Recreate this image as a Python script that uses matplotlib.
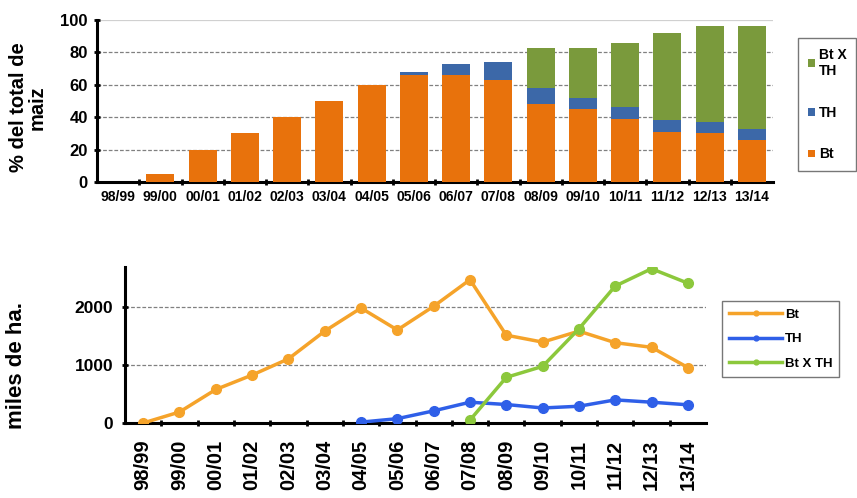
import matplotlib
matplotlib.use("Agg")
import matplotlib.pyplot as plt
import numpy as np

plt.rcParams['font.family'] = ['Liberation Sans', 'DejaVu Sans']
plt.rcParams['font.weight'] = 'bold'

seasons = ["98/99", "99/00", "00/01", "01/02", "02/03", "03/04", "04/05", "05/06",
           "06/07", "07/08", "08/09", "09/10", "10/11", "11/12", "12/13", "13/14"]

# Top: % of total maize
pct_bt = [0, 5, 20, 30, 40, 50, 60, 66, 66, 63, 48, 45, 39, 31, 30, 26]
pct_th = [0, 0, 0, 0, 0, 0, 0, 2, 7, 11, 10, 7, 7, 7, 7, 7]
pct_btxth = [0, 0, 0, 0, 0, 0, 0, 0, 0, 0, 25, 31, 40, 54, 59, 63]

# Bottom: thousands of hectares
ha_bt = [0, 190, 580, 830, 1110, 1590, 1990, 1610, 2020, 2480, 1520, 1400, 1590, 1390, 1310, 960]
ha_th = [None, None, None, None, None, None, 15, 75, 210, 360, 320, 260, 290, 400, 360, 315]
ha_btxth = [None, None, None, None, None, None, None, None, None, 50, 790, 980, 1630, 2370, 2670, 2420]

fig = plt.figure(figsize=(8.57, 4.98), dpi=100)
W, H = 857, 498

def ax_px(l, t, r, b):
    return fig.add_axes([l / W, 1 - b / H, (r - l) / W, (b - t) / H])

x = np.arange(len(seasons))

# ---------- top chart ----------
ax1 = ax_px(97, 20, 773, 182)
c_bt, c_th, c_bx = "#E8720C", "#3C68A8", "#7A9A3C"
b1 = ax1.bar(x, pct_bt, width=0.66, color=c_bt, zorder=3, label="Bt")
b2 = ax1.bar(x, pct_th, width=0.66, bottom=pct_bt, color=c_th, zorder=3, label="TH")
bottom3 = [a + b for a, b in zip(pct_bt, pct_th)]
b3 = ax1.bar(x, pct_btxth, width=0.66, bottom=bottom3, color=c_bx, zorder=3, label="Bt X\nTH")
ax1.set_xlim(-0.5, len(seasons) - 0.5)
ax1.set_ylim(0, 100)
ax1.set_yticks([0, 20, 40, 60, 80, 100])
ax1.set_xticks(x)
ax1.set_xticklabels(seasons, fontsize=10, fontweight='bold')
ax1.set_xticks(np.arange(0.5, len(seasons) - 0.5, 1), minor=True)
ax1.tick_params(axis='x', which='major', length=0, pad=6)
ax1.tick_params(axis='x', which='minor', length=5, width=2, direction='inout')
ax1.tick_params(axis='y', labelsize=12, length=5, width=2, direction='inout', pad=4)
for lab in ax1.get_yticklabels():
    lab.set_fontweight('bold')
for s in ['top', 'right']:
    ax1.spines[s].set_visible(False)
for s in ['left', 'bottom']:
    ax1.spines[s].set_linewidth(2.2)
ax1.yaxis.grid(True, linestyle=(0, (3, 1.5)), color="#808080", linewidth=0.9, zorder=0)
gl = ax1.get_ygridlines()
gl[-1].set_color("#d0d0d0")
gl[-1].set_linestyle("-")
ax1.set_ylabel("% del total de\nmaiz", fontsize=14.5, fontweight='bold', linespacing=0.95)
ax1.yaxis.set_label_coords(-0.075, 0.46)
leg1 = ax1.legend(handles=[b3, b2, b1], loc='upper left', bbox_to_anchor=(1.037, 0.889),
                  borderaxespad=0, frameon=True, fancybox=False, edgecolor="#555555",
                  fontsize=10, handlelength=0.5, handleheight=0.5, handletextpad=0.3,
                  labelspacing=2.0, borderpad=0.7)
for t in leg1.get_texts():
    t.set_fontweight('bold')

# ---------- bottom chart ----------
ax2 = ax_px(125, 267, 706, 423)
lc_bt, lc_th, lc_bx = "#F5A32A", "#2F5FE8", "#8CC83C"
ha_th_arr = np.array([np.nan if v is None else v for v in ha_th], dtype=float)
ha_bx_arr = np.array([np.nan if v is None else v for v in ha_btxth], dtype=float)
ax2.plot(x, ha_bt, color=lc_bt, lw=2.5, marker='o', ms=7, label="Bt", zorder=3)
ax2.plot(x, ha_th_arr, color=lc_th, lw=2.5, marker='o', ms=7, label="TH", zorder=3)
ax2.plot(x, ha_bx_arr, color=lc_bx, lw=2.5, marker='o', ms=7, label="Bt X TH", zorder=3)
ax2.set_xlim(-0.5, len(seasons) - 0.5)
ax2.set_ylim(0, 2700)
ax2.set_yticks([0, 1000, 2000])
ax2.set_xticks(x)
ax2.set_xticklabels(seasons, rotation=90, fontsize=14.5, fontweight='bold')
ax2.set_xticks(np.arange(0.5, len(seasons) - 0.5, 1), minor=True)
ax2.tick_params(axis='x', which='major', length=0, pad=12)
ax2.tick_params(axis='x', which='minor', length=5, width=2, direction='inout')
ax2.tick_params(axis='y', labelsize=12.5, length=5, width=2, direction='inout', pad=6)
for lab in ax2.get_yticklabels():
    lab.set_fontweight('bold')
for s in ['top', 'right']:
    ax2.spines[s].set_visible(False)
for s in ['left', 'bottom']:
    ax2.spines[s].set_linewidth(2.2)
ax2.yaxis.grid(True, linestyle=(0, (3, 1.5)), color="#808080", linewidth=0.9, zorder=0)
ax2.set_ylabel("miles de ha.", fontsize=16, fontweight='bold')
ax2.yaxis.set_label_coords(-0.169, 0.37)
leg2 = ax2.legend(loc='upper left', bbox_to_anchor=(1.0275, 0.782), borderaxespad=0,
                  frameon=True, fancybox=False, edgecolor="#555555", fontsize=9.5,
                  handlelength=4.0, labelspacing=0.95, borderpad=0.55,
                  handletextpad=0.2, markerscale=0.5)
for t in leg2.get_texts():
    t.set_fontweight('bold')

fig.savefig("out.png", dpi=100)
